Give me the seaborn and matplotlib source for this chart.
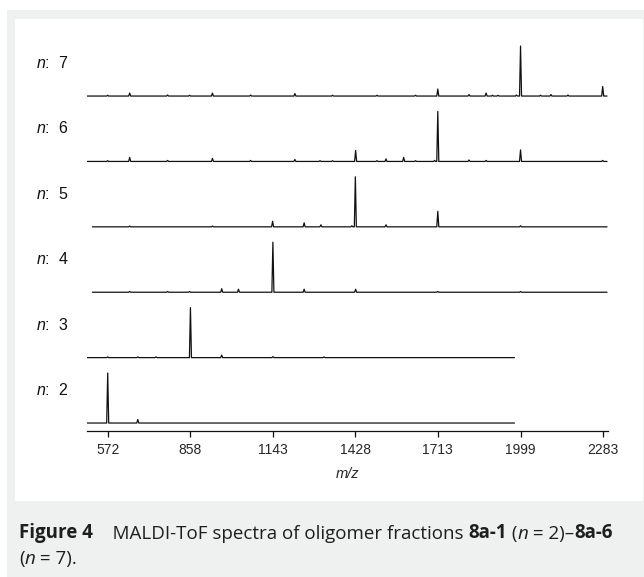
import pandas as pd
import seaborn as sns
import matplotlib.pyplot as plt
import matplotlib.transforms as mtransforms
from matplotlib.patches import Rectangle

# MALDI-ToF spectra, n = 2 ... 7 (bottom to top)
n_values = [2, 3, 4, 5, 6, 7]
mz_start = [499, 499, 519, 519, 499, 499]
mz_end = [1978, 1978, 2298, 2298, 2298, 2298]

peaks_mz = [
    [572, 676],
    [572, 676, 739, 858, 966, 1143, 1320],
    [648, 779, 855, 966, 1024, 1143, 1251, 1429, 1713, 1999],
    [648, 934, 1142, 1251, 1309, 1416, 1428, 1534, 1713, 1999],
    [572, 648, 779, 934, 1066, 1219, 1306, 1349, 1429, 1503, 1534, 1595,
     1636, 1702, 1713, 1821, 1880, 1999, 2283],
    [572, 648, 779, 855, 934, 1066, 1219, 1349, 1503, 1636, 1713, 1821,
     1880, 1902, 1921, 1985, 1999, 2068, 2104, 2163, 2283],
]
peaks_int = [
    [100, 7],
    [1.5, 1.5, 1.5, 100, 5, 2, 1.5],
    [1.5, 1.5, 1.5, 7, 6, 100, 6, 6, 1.5, 1.5],
    [1.5, 1.5, 11, 8, 4, 2, 100, 4, 31, 2],
    [1.5, 8, 2, 6, 2, 4, 1.5, 1.5, 22, 1.5, 5, 8, 1.5, 2, 100, 3, 2, 23, 2],
    [1.5, 6, 2, 1.5, 6, 2, 5, 1.5, 1.5, 1.5, 14, 3, 6, 1.5, 1.5, 2, 100,
     1.5, 3, 2, 19],
]
tick_values = [572, 858, 1143, 1428, 1713, 1999, 2283]

# stick spectra -> line points
half_w = 3.5
scale = 0.765  # row height fraction for 100 %
rows = []
for i, n in enumerate(n_values):
    rows.append((n, mz_start[i], i))
    for m, h in zip(peaks_mz[i], peaks_int[i]):
        rows.append((n, m - half_w, i))
        rows.append((n, m, i + h / 100 * scale))
        rows.append((n, m + half_w, i))
    rows.append((n, mz_end[i], i))
df = pd.DataFrame(rows, columns=['n', 'mz', 'y'])

sns.set_style('ticks')
plt.rcParams['font.family'] = ['Liberation Sans', 'DejaVu Sans']
plt.rcParams['mathtext.fontset'] = 'custom'
plt.rcParams['mathtext.rm'] = 'Liberation Sans'
plt.rcParams['mathtext.it'] = 'Liberation Sans:italic'

W, H = 644, 577
fig = plt.figure(figsize=(W / 100, H / 100), dpi=100, facecolor='white')

# grey frame + white panel
fig.patches.append(Rectangle((7 / W, 0), 1, 1 - 10 / H, transform=fig.transFigure,
                             facecolor='#eff0f0', edgecolor='none', zorder=-2))
fig.patches.append(Rectangle((15 / W, 1 - 501 / H), (643 - 15) / W, (501 - 19) / H,
                             transform=fig.transFigure, facecolor='white',
                             edgecolor='none', zorder=-1))

ax = fig.add_axes([86.7 / W, 1 - 431 / H, (607.7 - 86.7) / W, (431 - 40) / H])
ax.set_facecolor('none')

sns.lineplot(data=df, x='mz', y='y', units='n', estimator=None, sort=False,
             color='#111111', lw=0.9, ax=ax)

ax.set_xlim(499.4, 2300.3)
ax.set_ylim(-0.122, 5.857)
ax.set_xticks(tick_values)
ax.set_xticklabels([str(t) for t in tick_values])
ax.set_yticks([])
ax.set_ylabel('')
ax.set_xlabel('m/z', fontsize=10.5, fontstyle='italic', labelpad=7)
ax.tick_params(axis='x', direction='out', length=4, width=0.9, pad=4.5,
               labelsize=10, color='#111111')
sns.despine(ax=ax, left=True)
ax.spines['bottom'].set_linewidth(0.9)
ax.spines['bottom'].set_color('#111111')

trans = mtransforms.blended_transform_factory(fig.transFigure, ax.transData)
for i, n in enumerate(n_values):
    ax.text(36 / W, i + 0.505, f'$n$:  {n}', transform=trans, ha='left',
            va='center', fontsize=11.5, color='#111111')

# caption with mixed styles
cap = {'family': 'Open Sans', 'fontsize': 13.5, 'color': '#1e1e1e'}
line1 = [('Figure 4', 'bold', 'normal'),
         ('    MALDI-ToF spectra of oligomer fractions ', 'normal', 'normal'),
         ('8a-1', 'bold', 'normal'), (' (', 'normal', 'normal'),
         ('n', 'normal', 'italic'), (' = 2)–', 'normal', 'normal'),
         ('8a-6', 'bold', 'normal')]
line2 = [('(', 'normal', 'normal'), ('n', 'normal', 'italic'),
         (' = 7).', 'normal', 'normal')]


def caption_line(pieces, x, y):
    prev = None
    for txt, wt, st in pieces:
        if prev is None:
            prev = fig.text(x, y, txt, ha='left', va='baseline', fontweight=wt,
                            fontstyle=st, **cap)
        else:
            prev = ax.annotate(txt, xy=(1, 0), xycoords=prev, ha='left',
                               va='bottom', fontweight=wt, fontstyle=st, **cap)


caption_line(line1, 19 / W, 1 - 538 / H)
caption_line(line2, 19 / W, 1 - 564 / H)

fig.savefig('out.png', dpi=100, facecolor=fig.get_facecolor())
